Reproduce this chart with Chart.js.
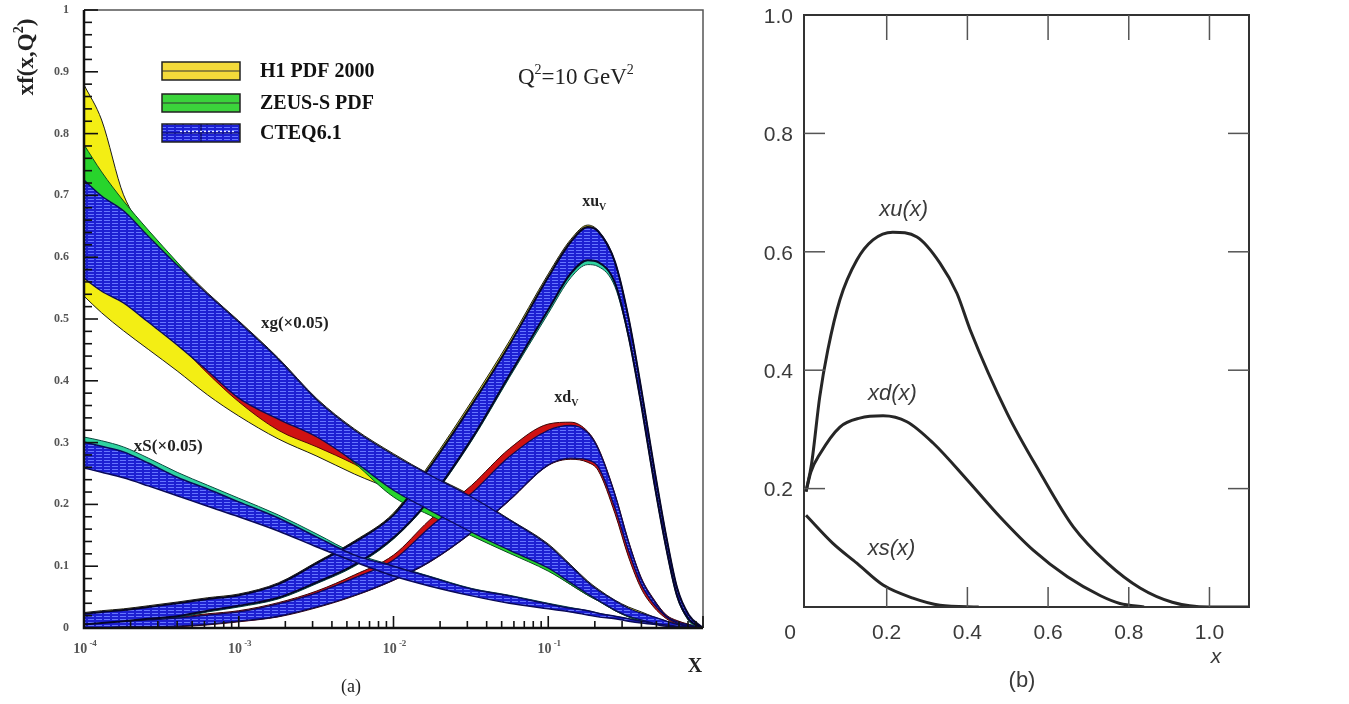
<!DOCTYPE html>
<html>
<head>
<meta charset="utf-8">
<script src="https://cdn.jsdelivr.net/npm/chart.js@4.4.1/dist/chart.umd.min.js"></script>
<style>
  html, body { margin: 0; padding: 0; background: #fff; }
  #wrap { position: relative; width: 1349px; height: 704px; overflow: hidden; }
  #pdfA { position: absolute; left: 0; top: 0; }
  #pdfB { position: absolute; left: 740px; top: 0; }
</style>
</head>
<body>
<div id="wrap">
  <canvas id="pdfA" width="740" height="704"></canvas>
  <canvas id="pdfB" width="609" height="704"></canvas>
</div>
<script>
// ---- panel (a): parton densities at Q^2 = 10 GeV^2, log x ----
const xGrid = [1e-4, 1.3e-4, 1.8e-4, 2.6e-4, 4e-4, 6.3e-4, 1e-3, 1.8e-3, 3.2e-3, 5.6e-3, 0.01, 0.017, 0.032, 0.056,
               0.1, 0.14, 0.18, 0.21, 0.27, 0.33, 0.4, 0.48, 0.58, 0.68, 0.81, 1];

// gluon (x0.05)
const gH1Hi    = [0.879, 0.822, 0.701, 0.639, 0.591, 0.542, 0.497, 0.437, 0.371, 0.322, 0.282, 0.249, 0.214, 0.176, 0.136, 0.102, 0.076, 0.063, 0.045, 0.034, 0.026, 0.018, 0.011, 0.006, 0.003, 0];
const gH1Lo    = [0.537, 0.510, 0.481, 0.451, 0.416, 0.377, 0.343, 0.306, 0.278, 0.249, 0.222, 0.189, 0.154, 0.125, 0.094, 0.070, 0.053, 0.044, 0.028, 0.018, 0.011, 0.008, 0.005, 0.003, 0.002, 0];
const gH1ExpHi = [0.612, 0.587, 0.563, 0.531, 0.498, 0.458, 0.417, 0.377, 0.345, 0.304, 0.256, 0.215, 0.175, 0.142, 0.110, 0.083, 0.061, 0.050, 0.032, 0.021, 0.015, 0.010, 0.006, 0.003, 0.002, 0];
const gH1ExpLo = [0.575, 0.552, 0.528, 0.497, 0.461, 0.412, 0.366, 0.320, 0.293, 0.265, 0.230, 0.196, 0.160, 0.129, 0.099, 0.073, 0.055, 0.045, 0.029, 0.019, 0.013, 0.008, 0.005, 0.003, 0.002, 0];
const gZeusHi  = [0.782, 0.738, 0.691, 0.644, 0.592, 0.537, 0.492, 0.432, 0.366, 0.317, 0.277, 0.244, 0.209, 0.172, 0.131, 0.099, 0.073, 0.060, 0.042, 0.031, 0.023, 0.016, 0.010, 0.006, 0.003, 0];
const gZeusLo  = [0.628, 0.608, 0.576, 0.544, 0.502, 0.458, 0.414, 0.366, 0.317, 0.267, 0.212, 0.183, 0.149, 0.121, 0.092, 0.070, 0.053, 0.044, 0.028, 0.018, 0.011, 0.008, 0.005, 0.003, 0.002, 0];
const gCteqHi  = [0.725, 0.699, 0.675, 0.634, 0.587, 0.540, 0.495, 0.435, 0.369, 0.320, 0.280, 0.248, 0.212, 0.175, 0.134, 0.100, 0.074, 0.061, 0.044, 0.032, 0.024, 0.018, 0.011, 0.006, 0.003, 0];
const gCteqLo  = [0.566, 0.545, 0.526, 0.495, 0.458, 0.416, 0.372, 0.338, 0.309, 0.269, 0.223, 0.191, 0.155, 0.126, 0.097, 0.073, 0.055, 0.045, 0.029, 0.019, 0.013, 0.008, 0.005, 0.003, 0.002, 0];

// sea (x0.05)
const sZeusHi  = [0.309, 0.303, 0.293, 0.275, 0.252, 0.231, 0.210, 0.183, 0.152, 0.121, 0.101, 0.084, 0.064, 0.053, 0.040, 0.033, 0.028, 0.024, 0.019, 0.015, 0.011, 0.008, 0.005, 0.003, 0.002, 0];
const sZeusLo  = [0.280, 0.273, 0.264, 0.248, 0.227, 0.207, 0.188, 0.163, 0.134, 0.110, 0.091, 0.074, 0.057, 0.045, 0.034, 0.029, 0.024, 0.021, 0.016, 0.013, 0.010, 0.006, 0.005, 0.003, 0.002, 0];
const sCteqHi  = [0.301, 0.294, 0.285, 0.267, 0.244, 0.225, 0.204, 0.178, 0.147, 0.118, 0.100, 0.083, 0.063, 0.052, 0.039, 0.032, 0.028, 0.024, 0.019, 0.015, 0.011, 0.008, 0.005, 0.003, 0.002, 0];
const sCteqLo  = [0.259, 0.252, 0.243, 0.230, 0.214, 0.197, 0.180, 0.157, 0.131, 0.107, 0.084, 0.068, 0.052, 0.040, 0.031, 0.026, 0.021, 0.018, 0.015, 0.011, 0.008, 0.006, 0.003, 0.002, 0.001, 0];

// u valence
const uH1Hi    = [0.025, 0.028, 0.031, 0.036, 0.042, 0.049, 0.055, 0.073, 0.107, 0.141, 0.186, 0.264, 0.367, 0.464, 0.573, 0.629, 0.652, 0.643, 0.593, 0.503, 0.386, 0.265, 0.148, 0.066, 0.021, 0];
const uH1Lo    = [0.016, 0.018, 0.021, 0.025, 0.029, 0.038, 0.046, 0.059, 0.084, 0.112, 0.156, 0.217, 0.316, 0.419, 0.525, 0.584, 0.605, 0.602, 0.566, 0.481, 0.368, 0.246, 0.134, 0.057, 0.016, 0];
const uZeusHi  = [0.013, 0.016, 0.019, 0.024, 0.030, 0.037, 0.043, 0.061, 0.095, 0.129, 0.173, 0.249, 0.351, 0.448, 0.558, 0.615, 0.639, 0.632, 0.582, 0.492, 0.375, 0.254, 0.137, 0.055, 0.011, 0];
const uZeusLo  = [0.004, 0.006, 0.009, 0.013, 0.017, 0.026, 0.034, 0.047, 0.072, 0.100, 0.144, 0.205, 0.303, 0.405, 0.509, 0.567, 0.588, 0.585, 0.552, 0.470, 0.358, 0.238, 0.126, 0.050, 0.013, 0];
const uCteqHi  = [0.023, 0.026, 0.029, 0.034, 0.040, 0.047, 0.053, 0.071, 0.105, 0.139, 0.183, 0.259, 0.361, 0.458, 0.568, 0.625, 0.649, 0.642, 0.592, 0.502, 0.385, 0.264, 0.147, 0.065, 0.021, 0];
const uCteqLo  = [0.006, 0.008, 0.011, 0.015, 0.019, 0.028, 0.036, 0.049, 0.074, 0.102, 0.146, 0.207, 0.306, 0.409, 0.515, 0.574, 0.595, 0.592, 0.558, 0.473, 0.360, 0.240, 0.128, 0.052, 0.014, 0];

// d valence
const dH1ExpHi = [0.012, 0.012, 0.013, 0.015, 0.018, 0.023, 0.028, 0.041, 0.060, 0.086, 0.118, 0.174, 0.231, 0.290, 0.330, 0.333, 0.318, 0.292, 0.217, 0.141, 0.081, 0.047, 0.021, 0.012, 0.006, 0];
const dH1ExpLo = [0, 0, 0.001, 0.001, 0.002, 0.005, 0.010, 0.018, 0.033, 0.052, 0.077, 0.106, 0.154, 0.206, 0.263, 0.273, 0.268, 0.255, 0.185, 0.115, 0.063, 0.034, 0.015, 0.006, 0.002, 0];
const dCteqHi  = [0.010, 0.010, 0.011, 0.013, 0.016, 0.021, 0.026, 0.039, 0.057, 0.081, 0.110, 0.162, 0.218, 0.277, 0.320, 0.328, 0.316, 0.290, 0.215, 0.139, 0.079, 0.045, 0.019, 0.010, 0.005, 0];
const dCteqLo  = [0, 0, 0.002, 0.002, 0.003, 0.006, 0.011, 0.019, 0.034, 0.053, 0.078, 0.107, 0.155, 0.207, 0.264, 0.275, 0.272, 0.261, 0.194, 0.125, 0.070, 0.039, 0.018, 0.008, 0.003, 0];

// axis ticks for panel (a)
const leftXDecades = [1e-4, 1e-3, 1e-2, 1e-1, 1];
const leftXExp = ['-4', '-3', '-2', '-1'];
const leftYMajor = [0, 0.1, 0.2, 0.3, 0.4, 0.5, 0.6, 0.7, 0.8, 0.9, 1];
const leftYLabels = ['0', '0.1', '0.2', '0.3', '0.4', '0.5', '0.6', '0.7', '0.8', '0.9', '1'];

// ---- panel (b): quark densities, linear x ----
const xuX = [0, 0.014, 0.034, 0.054, 0.084, 0.126, 0.166, 0.215, 0.275, 0.332, 0.374, 0.407, 0.498, 0.581, 0.663, 0.747, 0.828, 0.908, 0.998, 1.098];
const xuY = [0.195, 0.243, 0.355, 0.434, 0.519, 0.586, 0.62, 0.633, 0.625, 0.581, 0.53, 0.468, 0.328, 0.226, 0.135, 0.074, 0.032, 0.008, 0, 0];
const xdX = [0, 0.012, 0.034, 0.084, 0.133, 0.191, 0.25, 0.315, 0.399, 0.481, 0.563, 0.648, 0.73, 0.778, 0.838];
const xdY = [0.195, 0.228, 0.258, 0.304, 0.319, 0.323, 0.313, 0.277, 0.215, 0.152, 0.096, 0.051, 0.019, 0.006, 0];
const xsX = [0, 0.066, 0.126, 0.191, 0.265, 0.332, 0.428];
const xsY = [0.155, 0.108, 0.074, 0.037, 0.015, 0.003, 0];

const rightTicks = [0, 0.2, 0.4, 0.6, 0.8, 1.0];
const rightLabels = ['0', '0.2', '0.4', '0.6', '0.8', '1.0'];

// ------------------------------------------------------------------
const pdfA = document.getElementById('pdfA');
const pdfB = document.getElementById('pdfB');

const YELLOW = '#f3ee14';
const GREEN = '#28d42c';
const RED = '#cf1212';

// horizontal dashed hatching used for the CTEQ bands
const hatch = (() => {
  const c = document.createElement('canvas');
  c.width = 8; c.height = 3;
  const g = c.getContext('2d');
  g.fillStyle = '#1d20d2';
  g.fillRect(0, 0, 8, 3);
  g.fillStyle = '#6676ff';
  g.fillRect(0, 1, 6, 1);
  return pdfA.getContext('2d').createPattern(c, 'repeat');
})();

const pts = (xs, ys) => xs.map((x, i) => ({ x, y: ys[i] }));

// a band = lower edge + upper edge filled down to it
function band(label, hi, lo, fill, edge, order, width) {
  return [
    { label: label + ' (low)', data: pts(xGrid, lo), borderColor: edge, borderWidth: width,
      fill: false, order },
    { label, data: pts(xGrid, hi), borderColor: edge, borderWidth: width,
      backgroundColor: fill, fill: '-1', order }
  ];
}

const leftDatasets = [
  ...band('H1 PDF 2000 xg', gH1Hi, gH1Lo, YELLOW, '#1a1a1a', 4, 1),
  ...band('H1 PDF 2000 xuv', uH1Hi, uH1Lo, YELLOW, '#1a1a1a', 4, 1),
  ...band('H1 PDF 2000 exp. xg', gH1ExpHi, gH1ExpLo, RED, '#5a0606', 3, 1),
  ...band('H1 PDF 2000 exp. xdv', dH1ExpHi, dH1ExpLo, RED, '#3a0606', 3, 1),
  ...band('ZEUS-S PDF xg', gZeusHi, gZeusLo, GREEN, '#0b4a20', 2, 1),
  ...band('ZEUS-S PDF xS', sZeusHi, sZeusLo, '#2fd3a0', '#0b4a40', 2, 1),
  ...band('ZEUS-S PDF xuv', uZeusHi, uZeusLo, '#2fd3a0', '#0b4a40', 2, 1),
  ...band('CTEQ6.1 xg', gCteqHi, gCteqLo, hatch, '#0a0a5a', 1, 1.3),
  ...band('CTEQ6.1 xS', sCteqHi, sCteqLo, hatch, '#0a0a5a', 1, 1.5),
  ...band('CTEQ6.1 xuv', uCteqHi, uCteqLo, hatch, '#06062a', 1, 2),
  ...band('CTEQ6.1 xdv', dCteqHi, dCteqLo, hatch, '#0a0a5a', 1, 1.3)
];

const leftXTicks = [];
leftXDecades.forEach((d, i) => {
  const n = i < leftXDecades.length - 1 ? 9 : 1;
  for (let m = 1; m <= n; m++) leftXTicks.push(m * d);
});
const leftYTicks = [];
for (let i = 0; i <= 50; i++) leftYTicks.push(i / 50);

// text made of pieces with their own font and vertical shift
function drawRich(ctx, parts, x, y, align) {
  let w = 0;
  parts.forEach(p => { ctx.font = p.font; p.w = ctx.measureText(p.t).width; w += p.w; });
  let cx = align === 'center' ? x - w / 2 : x;
  ctx.textAlign = 'left';
  parts.forEach(p => { ctx.font = p.font; ctx.fillText(p.t, cx, y + (p.dy || 0)); cx += p.w; });
}

const SERIF = '"Liberation Serif", "DejaVu Serif", serif';
const SANS = '"Liberation Sans", Arial, sans-serif';

const legendItems = [
  { text: 'H1 PDF 2000', fill: '#f4da3a', top: 52 },
  { text: 'ZEUS-S PDF', fill: '#3bd43b', top: 84 },
  { text: 'CTEQ6.1', fill: hatch, top: 114, dotted: true }
];

const leftDeco = {
  id: 'leftDeco',
  afterDatasetsDraw(chart) {
    const { ctx, chartArea: a, scales: { x: sx, y: sy } } = chart;
    ctx.save();
    // frame: light top/right, heavy axes
    ctx.strokeStyle = '#555';
    ctx.lineWidth = 1.5;
    ctx.beginPath();
    ctx.moveTo(a.left, a.top); ctx.lineTo(a.right, a.top); ctx.lineTo(a.right, a.bottom);
    ctx.stroke();
    ctx.strokeStyle = '#111';
    ctx.lineWidth = 2.5;
    ctx.beginPath();
    ctx.moveTo(a.left, a.top); ctx.lineTo(a.left, a.bottom); ctx.lineTo(a.right, a.bottom);
    ctx.stroke();

    // inward ticks
    ctx.lineWidth = 1.6;
    sy.ticks.forEach(t => {
      const py = sy.getPixelForValue(t.value);
      const major = Math.round(t.value * 50) % 5 === 0;
      ctx.beginPath(); ctx.moveTo(a.left, py); ctx.lineTo(a.left + (major ? 14 : 8), py); ctx.stroke();
    });
    sx.ticks.forEach(t => {
      const px = sx.getPixelForValue(t.value);
      const major = leftXDecades.includes(t.value);
      ctx.beginPath(); ctx.moveTo(px, a.bottom); ctx.lineTo(px, a.bottom - (major ? 12 : 7)); ctx.stroke();
    });

    // tick labels
    ctx.fillStyle = '#555';
    ctx.font = 'bold 12px ' + SERIF;
    ctx.textAlign = 'right';
    ctx.textBaseline = 'middle';
    leftYMajor.forEach((v, i) => ctx.fillText(leftYLabels[i], a.left - 15, sy.getPixelForValue(v)));
    ctx.textBaseline = 'alphabetic';
    leftXExp.forEach((e, i) => {
      const px = sx.getPixelForValue(leftXDecades[i]);
      drawRich(ctx, [
        { t: '10', font: 'bold 14px ' + SERIF },
        { t: ' ' + e, font: 'bold 9px ' + SERIF, dy: -7 }
      ], px + 1, a.bottom + 25, 'center');
    });

    // axis titles
    ctx.fillStyle = '#222';
    ctx.save();
    ctx.translate(33, 57);
    ctx.rotate(-Math.PI / 2);
    drawRich(ctx, [
      { t: 'xf(x,Q', font: 'bold 23px ' + SERIF },
      { t: '2', font: 'bold 14px ' + SERIF, dy: -10 },
      { t: ')', font: 'bold 23px ' + SERIF }
    ], 0, 0, 'center');
    ctx.restore();
    ctx.font = 'bold 20px ' + SERIF;
    ctx.textAlign = 'center';
    ctx.fillText('X', a.right - 8, a.bottom + 44);
    ctx.font = '18px ' + SERIF;
    ctx.fillText('(a)', a.left + 267, a.bottom + 64);

    // legend
    legendItems.forEach(it => {
      const bx = a.left + 78, by = a.top + it.top, bw = 78, bh = 18;
      ctx.fillStyle = it.fill;
      ctx.fillRect(bx, by, bw, bh);
      ctx.strokeStyle = '#222';
      ctx.lineWidth = 1.5;
      ctx.strokeRect(bx, by, bw, bh);
      ctx.beginPath();
      ctx.moveTo(bx, by + bh / 2); ctx.lineTo(bx + bw, by + bh / 2);
      ctx.strokeStyle = it.dotted ? '#0a0a5a' : '#333';
      ctx.lineWidth = 1.2;
      ctx.stroke();
      if (it.dotted) {
        ctx.beginPath();
        ctx.moveTo(bx + bw / 2, by); ctx.lineTo(bx + bw / 2, by + bh);
        ctx.stroke();
        ctx.setLineDash([2, 2]);
        ctx.strokeStyle = '#e8ecff';
        ctx.beginPath();
        ctx.moveTo(bx + 18, by + bh / 2 - 1.5); ctx.lineTo(bx + bw - 6, by + bh / 2 - 1.5);
        ctx.stroke();
        ctx.setLineDash([]);
      }
      ctx.fillStyle = '#111';
      ctx.font = 'bold 20px ' + SERIF;
      ctx.textAlign = 'left';
      ctx.textBaseline = 'middle';
      ctx.fillText(it.text, bx + 98, by + bh / 2 + 1);
      ctx.textBaseline = 'alphabetic';
    });

    // Q^2 note and curve names
    ctx.fillStyle = '#222';
    drawRich(ctx, [
      { t: 'Q', font: '23px ' + SERIF },
      { t: '2', font: '14px ' + SERIF, dy: -10 },
      { t: '=10 GeV', font: '23px ' + SERIF },
      { t: '2', font: '14px ' + SERIF, dy: -10 }
    ], a.left + 434, a.top + 74, 'left');

    const sub = (name, xv, yv) => drawRich(ctx, [
      { t: name, font: 'bold 16px ' + SERIF },
      { t: 'V', font: 'bold 10px ' + SERIF, dy: 4 }
    ], sx.getPixelForValue(xv), sy.getPixelForValue(yv), 'left');
    sub('xu', 0.1656, 0.683);
    sub('xd', 0.1094, 0.366);
    ctx.font = 'bold 17px ' + SERIF;
    ctx.textAlign = 'left';
    ctx.fillText('xg(\u00d70.05)', sx.getPixelForValue(1.39e-3), sy.getPixelForValue(0.485));
    ctx.fillText('xS(\u00d70.05)', sx.getPixelForValue(2.1e-4), sy.getPixelForValue(0.286));
    ctx.restore();
  }
};

const baseOpts = padding => ({
  responsive: false,
  animation: false,
  events: [],
  layout: { padding },
  plugins: { legend: { display: false }, tooltip: { enabled: false } },
  elements: { point: { radius: 0 }, line: { cubicInterpolationMode: 'monotone' } }
});

const hiddenAxis = extra => Object.assign({
  ticks: { display: false },
  grid: { display: false, drawTicks: false },
  border: { display: false }
}, extra);

new Chart(pdfA, {
  type: 'line',
  data: { datasets: leftDatasets },
  options: Object.assign(baseOpts({ left: 84, right: 37, top: 10, bottom: 76 }), {
    scales: {
      x: hiddenAxis({ type: 'logarithmic', min: 1e-4, max: 1,
        afterBuildTicks: s => { s.ticks = leftXTicks.map(v => ({ value: v })); } }),
      y: hiddenAxis({ type: 'linear', min: 0, max: 1,
        afterBuildTicks: s => { s.ticks = leftYTicks.map(v => ({ value: v })); } })
    }
  }),
  plugins: [leftDeco]
});

// ---- panel (b) ----
const rightDeco = {
  id: 'rightDeco',
  afterDatasetsDraw(chart) {
    const { ctx, chartArea: a, scales: { x: sx, y: sy } } = chart;
    ctx.save();
    ctx.strokeStyle = '#333';
    ctx.lineWidth = 2;
    ctx.strokeRect(a.left, a.top, a.right - a.left, a.bottom - a.top);

    ctx.strokeStyle = '#555';
    ctx.lineWidth = 1.5;
    rightTicks.forEach(v => {
      if (v <= 0) return;
      const px = sx.getPixelForValue(v);
      ctx.beginPath(); ctx.moveTo(px, a.bottom); ctx.lineTo(px, a.bottom - 20); ctx.stroke();
      ctx.beginPath(); ctx.moveTo(px, a.top); ctx.lineTo(px, a.top + 25); ctx.stroke();
      if (v < 1) {
        const py = sy.getPixelForValue(v);
        ctx.beginPath(); ctx.moveTo(a.left, py); ctx.lineTo(a.left + 21, py); ctx.stroke();
        ctx.beginPath(); ctx.moveTo(a.right, py); ctx.lineTo(a.right - 21, py); ctx.stroke();
      }
    });

    ctx.fillStyle = '#3a3a3a';
    ctx.font = '21px ' + SANS;
    ctx.textBaseline = 'middle';
    rightTicks.forEach((v, i) => {
      if (v > 0) {
        ctx.textAlign = 'right';
        ctx.fillText(rightLabels[i], a.left - 11, sy.getPixelForValue(v) + 2);
      }
      ctx.textAlign = 'center';
      const px = v === 0 ? a.left - 14 : sx.getPixelForValue(v);
      ctx.fillText(rightLabels[i], px, a.bottom + 26);
    });

    ctx.font = 'italic 21px ' + SANS;
    ctx.textAlign = 'center';
    ctx.fillText('x', a.right - 33, a.bottom + 50);
    ctx.font = 'italic 22px ' + SANS;
    ctx.fillText('xu(x)', sx.getPixelForValue(0.242), sy.getPixelForValue(0.671));
    ctx.fillText('xd(x)', sx.getPixelForValue(0.214), sy.getPixelForValue(0.360));
    ctx.fillText('xs(x)', sx.getPixelForValue(0.212), sy.getPixelForValue(0.098));
    ctx.font = '22px ' + SANS;
    ctx.fillText('(b)', a.left + 218, a.bottom + 74);
    ctx.restore();
  }
};

const curve = (label, xs, ys) => ({
  label, data: pts(xs, ys), borderColor: '#262626', borderWidth: 3, fill: false
});

new Chart(pdfB, {
  type: 'line',
  data: { datasets: [curve('xu(x)', xuX, xuY), curve('xd(x)', xdX, xdY), curve('xs(x)', xsX, xsY)] },
  options: Object.assign(baseOpts({ left: 64, right: 100, top: 15, bottom: 97 }), {
    scales: {
      x: hiddenAxis({ type: 'linear', min: -0.005, max: 1.098 }),
      y: hiddenAxis({ type: 'linear', min: 0, max: 1 })
    }
  }),
  plugins: [rightDeco]
});
</script>
</body>
</html>
